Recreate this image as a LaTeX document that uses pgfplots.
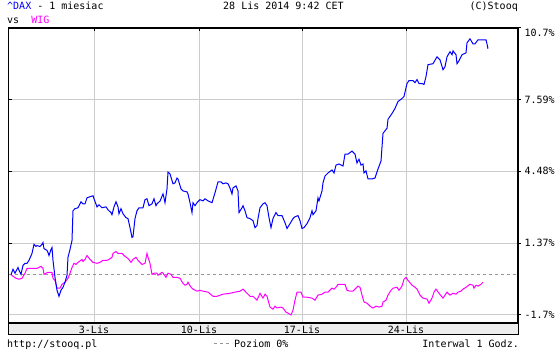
\documentclass[border=0pt]{standalone}
\usepackage{pgfplots}
\pgfplotsset{compat=1.18}
\usepackage{fontspec}
\setmonofont{DejaVu Sans Mono}
\definecolor{dax}{RGB}{0,0,255}
\definecolor{wig}{RGB}{255,0,255}
\definecolor{gridc}{RGB}{204,204,204}
\definecolor{stripc}{RGB}{238,238,238}
\definecolor{zeroc}{RGB}{150,150,150}
\begin{document}
\begin{tikzpicture}[font=\ttfamily\fontsize{10bp}{12bp}\selectfont]
\useasboundingbox (0,0) rectangle (560bp,350bp);
\filldraw[fill=stripc, draw=black, line width=1bp] (8.5bp,15bp) rectangle (518bp,27bp);
\begin{axis}[
  name=a, at={(8.5bp,27bp)}, anchor=south west,
  scale only axis, width=509.5bp, height=295bp,
  xmin=8.5, xmax=518, ymin=-2.1, ymax=10.7,
  axis line style={line width=1.2bp},
  xtick={94,199,302,406}, xticklabels={3-Lis,10-Lis,17-Lis,24-Lis},
  xtick pos=upper, xticklabel pos=lower,
  xticklabel style={anchor=center, yshift=-6.5bp},
  ytick={-1.74,1.37,4.48,7.59,10.7},
  yticklabels={-1.7\%,1.37\%,4.48\%,7.59\%,\raisebox{-8.7bp}[0pt][0pt]{10.7\%}},
  ytick pos=right, yticklabel pos=right,
  yticklabel style={anchor=west, xshift=0bp},
  tick style={black, line width=1bp},
  major tick length=3bp,
  xtick align=inside, ytick align=outside,
  grid=major, major grid style={gridc, line width=1bp},
  clip=true,
]
\addplot[zeroc, line width=1bp, dash pattern=on 3bp off 3bp] coordinates {(8.5,0) (518,0)};
\addplot[wig, line width=1bp] coordinates {
(11,0) (13,-0.07) (16,-0.16) (19,-0.20) (22,-0.16) (25,0.06) (27,0.27) (30,0.27) (33,0.27) (37,0.27)
(41,0.36) (43,0.27) (44,0.01) (46,0.06) (48,0.10) (52,0.10) (53,-0.16) (55,-0.25) (57,-0.59) (60,-0.59)
(62,-0.42) (65,-0.33) (68,-0.16) (70,0.06) (72,0.31) (74,0.49) (76,0.44) (78,0.53) (82,0.66) (83,0.57)
(85,0.66) (87,0.83) (90,0.66) (93,0.53) (97,0.49) (100,0.53) (103,0.62) (107,0.62) (109,0.66) (112,0.75)
(113,0.92) (116,1.00) (118,0.92) (122,0.92) (125,0.79) (128,0.70) (131,0.53) (133,0.66) (136,0.75) (138,0.62)
(142,0.44) (145,0.49) (147,0.92) (148,0.75) (150,0.49) (152,0.01) (154,0.06) (157,0.06) (158,-0.03) (162,0.10)
(163,0.06) (166,-0.12) (168,0.06) (171,0.01) (173,-0.12) (177,-0.12) (180,-0.16) (183,-0.38) (185,-0.46) (187,-0.42)
(188,-0.33) (191,-0.55) (193,-0.63) (197,-0.72) (200,-0.68) (203,-0.72) (208,-0.76) (213,-0.94) (217,-0.94) (223,-0.85)
(230,-0.81) (235,-0.76) (240,-0.72) (243,-0.63) (247,-0.81) (250,-0.94) (253,-0.94) (257,-1.11) (260,-0.81) (263,-1.02)
(265,-0.85) (267,-0.94) (270,-1.41) (273,-1.50) (275,-1.37) (277,-1.45) (281,-1.41) (283,-1.45) (286,-1.63) (288,-1.67)
(291,-1.75) (293,-1.54) (295,-1.11) (297,-0.76) (301,-0.76) (303,-0.98) (307,-0.98) (312,-1.02) (315,-1.11) (318,-0.89)
(322,-0.85) (325,-0.76) (328,-0.76) (332,-0.59) (334,-0.63) (336,-0.55) (338,-0.42) (345,-0.42) (347,-0.68) (350,-0.72)
(353,-0.72) (356,-0.59) (358,-0.50) (360,-0.55) (362,-0.89) (364,-1.19) (367,-1.24) (370,-1.37) (373,-1.45) (376,-1.37)
(379,-1.41) (382,-1.37) (383,-1.19) (386,-1.11) (388,-0.89) (391,-0.68) (393,-0.59) (397,-0.55) (399,-0.68) (402,-0.50)
(404,-0.20) (406,-0.12) (408,-0.25) (412,-0.46) (415,-0.55) (417,-0.63) (420,-0.89) (423,-1.02) (427,-1.06) (429,-1.24)
(432,-1.02) (434,-0.76) (436,-0.63) (439,-0.81) (443,-1.02) (445,-0.89) (447,-0.76) (450,-0.89) (453,-0.81) (456,-0.85)
(458,-0.76) (461,-0.72) (463,-0.63) (466,-0.55) (470,-0.42) (473,-0.46) (474,-0.59) (476,-0.46) (478,-0.50) (481,-0.42)
(483,-0.33)
};
\addplot[dax, line width=1bp] coordinates {
(11,0) (13,0.23) (15,0.06) (18,0.31) (19,0.19) (21,0.01) (23,0.40) (25,0.49) (27,0.49) (29,0.62)
(32,0.92) (34,1.31) (36,1.22) (37,1.26) (40,1.22) (42,1.31) (43,1.39) (44,1.13) (47,1.05) (48,0.96)
(49,0.83) (51,1.09) (52,1.18) (53,0.62) (55,-0.12) (57,-0.68) (58,-0.81) (59,-0.94) (61,-0.68) (63,-0.55)
(65,-0.33) (67,-0.03) (68,0.75) (70,1.09) (72,1.48) (73,2.77) (75,2.86) (78,2.90) (81,3.16) (83,3.07)
(85,3.07) (87,3.33) (90,3.38) (93,3.42) (94,3.29) (97,2.94) (99,3.03) (102,2.90) (106,2.94) (108,2.81)
(111,2.69) (112,2.60) (114,2.94) (116,3.16) (118,2.94) (119,2.64) (121,2.86) (123,2.64) (126,2.47) (128,2.43)
(130,2.04) (132,1.61) (133,1.65) (135,2.43) (137,2.77) (139,2.90) (143,2.90) (145,3.25) (147,3.29) (149,2.99)
(152,3.07) (154,3.29) (156,2.99) (157,3.07) (160,3.19) (163,3.50) (164,3.33) (165,3.12) (167,3.72) (168,4.45)
(170,4.37) (173,3.94) (175,3.98) (177,4.19) (178,4.15) (181,3.72) (183,3.63) (187,3.59) (188,3.50) (190,3.12)
(192,2.69) (193,3.12) (195,2.99) (197,3.12) (200,3.25) (203,3.20) (205,3.29) (208,3.20) (212,3.12) (215,3.55)
(218,4.02) (221,4.02) (223,3.94) (226,3.98) (228,3.94) (230,3.76) (232,3.50) (233,3.76) (236,3.85) (238,3.63)
(239,2.69) (242,2.90) (243,2.99) (245,2.77) (247,2.47) (250,2.43) (253,2.34) (255,2.04) (257,2.13) (258,2.43)
(260,2.90) (263,3.07) (265,3.12) (267,2.99) (269,2.47) (271,2.04) (273,2.43) (276,2.69) (278,2.56) (282,2.56)
(285,2.25) (287,2.00) (290,2.21) (293,2.43) (295,2.51) (298,2.56) (300,2.34) (302,2.00) (304,2.04) (307,2.21)
(310,2.47) (312,2.77) (313,2.60) (316,2.77) (318,3.33) (319,3.20) (322,3.63) (323,3.98) (325,4.28) (328,4.41)
(332,4.54) (334,4.41) (336,4.75) (339,4.80) (343,4.71) (345,5.23) (348,5.23) (352,5.36) (355,5.23) (357,4.84)
(359,5.01) (361,4.75) (363,4.80) (364,4.41) (366,4.50) (368,4.15) (372,4.15) (375,4.19) (378,4.58) (381,4.93)
(383,6.13) (387,6.35) (388,6.74) (392,6.99) (395,7.21) (398,7.51) (402,7.64) (404,7.73) (407,8.29) (409,8.42)
(413,8.42) (415,8.33) (417,8.46) (419,8.29) (422,8.29) (424,8.25) (426,8.59) (428,9.11) (433,9.15) (437,9.45)
(440,9.32) (443,8.89) (445,9.02) (447,9.45) (450,9.67) (452,9.54) (453,9.71) (456,9.54) (457,9.15) (459,9.28)
(462,9.54) (464,9.58) (466,9.62) (467,10.06) (470,10.23) (473,10.01) (475,10.01) (478,10.19) (482,10.19) (486,10.19)
(487,10.01) (488,9.80)
};
\end{axis}
\begin{axis}[
  at={(8.5bp,27bp)}, anchor=south west,
  scale only axis, width=509.5bp, height=295bp,
  xmin=8.5, xmax=518, ymin=-2.1, ymax=10.7,
  axis line style={line width=1.2bp},
  xtick=\empty,
  ytick={1.37,4.48,7.59}, yticklabels={},
  ytick pos=left, ytick align=inside,
  tick style={black, line width=1bp},
  major tick length=3bp,
]
\end{axis}
\node[anchor=base west, inner sep=0] at (7bp,340bp) {\textcolor{dax}{\textasciicircum DAX} - 1 miesiac};
\node[anchor=base west, inner sep=0] at (7bp,326bp) {vs\ \ \textcolor{wig}{WIG}};
\node[anchor=base west, inner sep=0] at (223bp,340bp) {28 Lis 2014 9:42 CET};
\node[anchor=base east, inner sep=0] at (518bp,340bp) {(C)Stooq};
\node[anchor=base west, inner sep=0] at (7bp,3bp) {http://stooq.pl};
\draw[zeroc, line width=1bp, dash pattern=on 3bp off 3bp] (214bp,6.5bp) -- (232bp,6.5bp);
\node[anchor=base west, inner sep=0] at (234bp,3bp) {Poziom 0\%};
\node[anchor=base east, inner sep=0] at (519bp,3bp) {Interwal 1 Godz.};
\end{tikzpicture}
\end{document}
